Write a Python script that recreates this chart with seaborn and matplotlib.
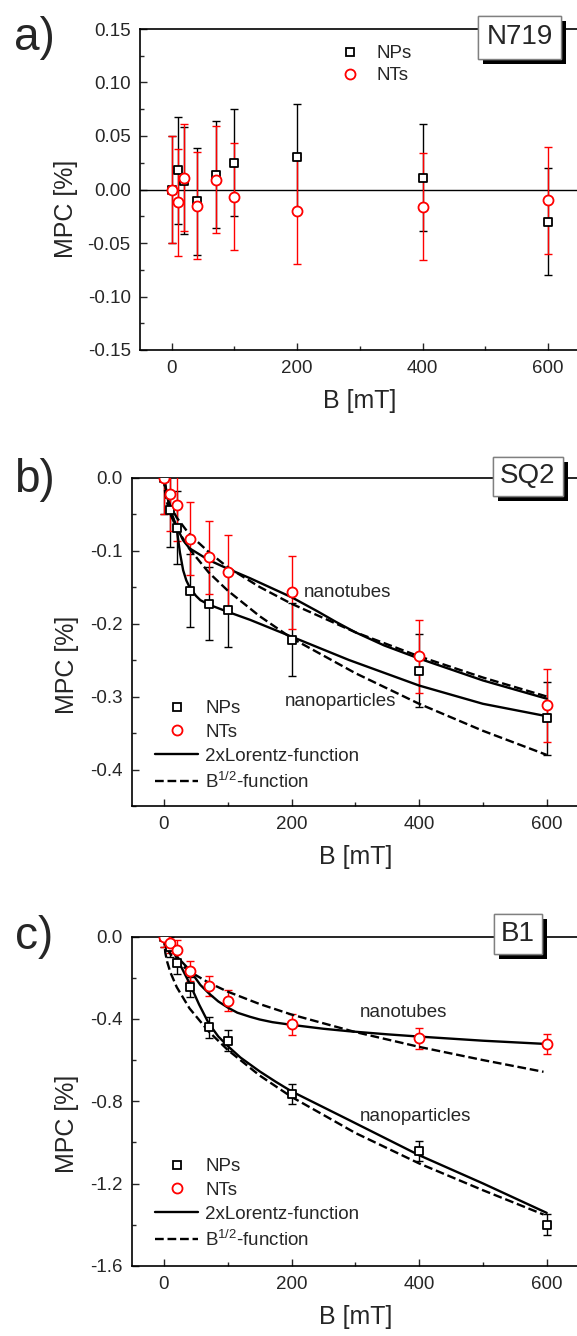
import matplotlib
matplotlib.use("Agg")
import matplotlib.pyplot as plt
import matplotlib.patheffects as pe
from matplotlib.lines import Line2D
from matplotlib.ticker import MultipleLocator, FormatStrFormatter
import seaborn as sns

# ---- data ----
B_pts = [0, 10, 20, 40, 70, 100, 200, 400, 600]

# a) N719
np_a = [0.0, 0.018, 0.008, -0.011, 0.014, 0.025, 0.030, 0.011, -0.030]
nt_a = [0.0, -0.012, 0.011, -0.015, 0.009, -0.007, -0.020, -0.016, -0.010]
err_a = 0.05

# b) SQ2
np_b = [0.0, -0.045, -0.069, -0.155, -0.173, -0.182, -0.222, -0.265, -0.330]
nt_b = [0.0, -0.023, -0.037, -0.084, -0.109, -0.129, -0.157, -0.245, -0.312]
err_b = 0.05
lor_np_b_x = [0, 5, 10, 20, 25, 30, 35, 40, 50, 57, 70, 100, 135, 200, 290, 400, 500, 600]
lor_np_b = [0, -0.025, -0.045, -0.070, -0.103, -0.127, -0.141, -0.150, -0.162, -0.168,
            -0.174, -0.184, -0.195, -0.218, -0.250, -0.285, -0.310, -0.327]
lor_nt_b_x = [0, 5, 10, 20, 30, 40, 70, 100, 135, 200, 240, 270, 300, 345, 400, 500, 600]
lor_nt_b = [0, -0.025, -0.045, -0.068, -0.086, -0.097, -0.113, -0.125, -0.138,
            -0.164, -0.183, -0.198, -0.212, -0.230, -0.248, -0.278, -0.303]
sq_x = [0, 2, 5, 10, 20, 40, 70, 100, 150, 200, 300, 400, 500, 600]
sq_np_b = [0, -0.022, -0.035, -0.050, -0.070, -0.098, -0.130, -0.155, -0.190,
           -0.220, -0.268, -0.310, -0.347, -0.380]
sq_nt_b = [0, -0.017, -0.027, -0.039, -0.055, -0.078, -0.102, -0.123, -0.150,
           -0.173, -0.212, -0.245, -0.274, -0.300]

# c) B1
np_c = [0.0, -0.050, -0.130, -0.246, -0.441, -0.506, -0.765, -1.041, -1.399]
nt_c = [0.0, -0.030, -0.065, -0.167, -0.240, -0.311, -0.426, -0.494, -0.522]
err_c = 0.05
lor_np_c_x = [0, 10, 20, 40, 55, 70, 85, 100, 120, 150, 175, 200, 290, 400, 500, 600]
lor_np_c = [0, -0.045, -0.105, -0.227, -0.330, -0.421, -0.485, -0.532, -0.588,
            -0.655, -0.705, -0.752, -0.891, -1.062, -1.199, -1.342]
lor_nt_c_x = [0, 10, 20, 40, 57, 70, 85, 100, 115, 135, 150, 170, 200, 250, 290, 350,
              400, 500, 600]
lor_nt_c = [0, -0.040, -0.097, -0.162, -0.235, -0.275, -0.315, -0.345, -0.370, -0.390,
            -0.403, -0.416, -0.429, -0.448, -0.460, -0.475, -0.486, -0.506, -0.522]
sq_c_x = [0, 2, 5, 10, 20, 40, 70, 100, 150, 200, 300, 400, 500, 595]
sq_np_c = [0, -0.078, -0.123, -0.174, -0.246, -0.349, -0.461, -0.551, -0.675,
           -0.779, -0.954, -1.102, -1.232, -1.350]
sq_nt_c = [0, -0.038, -0.060, -0.085, -0.120, -0.170, -0.224, -0.268, -0.328,
           -0.379, -0.464, -0.536, -0.600, -0.657]

sns.set_style("ticks")
plt.rcParams["font.family"] = ["Liberation Sans", "DejaVu Sans"]
plt.rcParams["mathtext.fontset"] = "custom"
plt.rcParams["mathtext.rm"] = "Liberation Sans"
plt.rcParams["mathtext.it"] = "Liberation Sans:italic"
plt.rcParams["axes.unicode_minus"] = False

W, H = 577, 1336
fig = plt.figure(figsize=(W / 100, H / 100), dpi=100)


def px_axes(left, top, right, bottom):
    return fig.add_axes([left / W, 1 - bottom / H, (right - left) / W, (bottom - top) / H])


def style_axes(ax, ylim, ymaj, ymin, yfmt, ylab_x, ylab_y):
    ax.set_xlim(-50, 650)
    ax.set_ylim(*ylim)
    ax.xaxis.set_major_locator(MultipleLocator(200))
    ax.xaxis.set_minor_locator(MultipleLocator(100))
    ax.yaxis.set_major_locator(MultipleLocator(ymaj))
    ax.yaxis.set_minor_locator(MultipleLocator(ymin))
    ax.yaxis.set_major_formatter(FormatStrFormatter(yfmt))
    ax.tick_params(which="both", direction="in", width=1.0, labelsize=13.5, pad=7,
                   top=False, right=False)
    ax.tick_params(which="major", length=5)
    ax.tick_params(which="minor", length=3)
    for s in ["left", "bottom", "top"]:
        ax.spines[s].set_linewidth(1.2)
        ax.spines[s].set_color("black")
    ax.spines["right"].set_visible(False)
    ax.set_xlabel("B [mT]", fontsize=18, labelpad=9)
    ax.set_ylabel("MPC [%]", fontsize=18)
    ax.yaxis.set_label_coords(ylab_x, ylab_y)


def draw_points(ax, y_np, y_nt, err):
    ax.errorbar(B_pts, y_np, yerr=err, fmt="none", ecolor="black", elinewidth=1.0,
                capsize=3, capthick=1.0, zorder=3)
    ax.errorbar(B_pts, y_nt, yerr=err, fmt="none", ecolor="red", elinewidth=1.0,
                capsize=3, capthick=1.0, zorder=3)
    sns.scatterplot(x=B_pts, y=y_np, marker="s", s=32, facecolor="white",
                    edgecolor="black", linewidth=1.3, ax=ax, zorder=5)
    sns.scatterplot(x=B_pts, y=y_nt, marker="o", s=52, facecolor="white",
                    edgecolor="red", linewidth=1.3, ax=ax, zorder=6)


def draw_curves(ax, curves):
    for xs, ys, ls in curves:
        sns.lineplot(x=xs, y=ys, color="black", linewidth=1.7, linestyle=ls,
                     sort=False, estimator=None, ax=ax, zorder=4)


def box_label(text, x, y, pad):
    t = fig.text(x / W, 1 - y / H, text, fontsize=20, ha="center", va="center",
                 bbox=dict(boxstyle="square,pad=%.2f" % pad, fc="white", ec="#808080", lw=1.0),
                 zorder=10)
    t.get_bbox_patch().set_path_effects(
        [pe.withSimplePatchShadow(offset=(3.6, -3.6), shadow_rgbFace="black", alpha=1.0),
         pe.Normal()])


mk_np = Line2D([], [], marker="s", ls="none", mfc="white", mec="black", ms=5.6, mew=1.3)
mk_nt = Line2D([], [], marker="o", ls="none", mfc="white", mec="red", ms=7.2, mew=1.3)
ln_lor = Line2D([], [], color="black", lw=1.7)
ln_sq = Line2D([], [], color="black", lw=1.7, ls="--")
leg_labels = ["NPs", "NTs", "2xLorentz-function", r"B$^{1/2}$-function"]

# ---- a) ----
ax_a = px_axes(140.4, 29, 579.3, 350)
ax_a.axhline(0, color="black", lw=1.0, zorder=2)
draw_points(ax_a, np_a, nt_a, err_a)
style_axes(ax_a, (-0.15, 0.15), 0.05, 0.025, "%.2f", -0.142, 0.44)
ax_a.legend(handles=[mk_np, mk_nt], labels=["NPs", "NTs"], loc="upper left",
            bbox_to_anchor=(337 / W, 1 - 45 / H), bbox_transform=fig.transFigure,
            frameon=False, fontsize=13.5, handlelength=1.4, handletextpad=0.7,
            labelspacing=0.28, borderpad=0, borderaxespad=0)

# ---- b) ----
ax_b = px_axes(132.1, 477.5, 578.6, 806)
draw_curves(ax_b, [(lor_np_b_x, lor_np_b, "-"), (lor_nt_b_x, lor_nt_b, "-"),
                   (sq_x, sq_np_b, "--"), (sq_x, sq_nt_b, "--")])
draw_points(ax_b, np_b, nt_b, err_b)
style_axes(ax_b, (-0.45, 0.0), 0.1, 0.05, "%.1f", -0.119, 0.43)
ax_b.text(288, -0.157, "nanotubes", fontsize=13.5, ha="center", va="center")
ax_b.text(277, -0.3075, "nanoparticles", fontsize=13.5, ha="center", va="center")
ax_b.legend(handles=[mk_np, mk_nt, ln_lor, ln_sq], labels=leg_labels,
            loc="upper left", bbox_to_anchor=(155 / W, 1 - 700 / H),
            bbox_transform=fig.transFigure, frameon=False, fontsize=13.5,
            handlelength=2.3, handletextpad=0.37, labelspacing=0.36,
            borderpad=0, borderaxespad=0)

# ---- c) ----
ax_c = px_axes(132.1, 936.5, 578.6, 1266)
draw_curves(ax_c, [(lor_np_c_x, lor_np_c, "-"), (lor_nt_c_x, lor_nt_c, "-"),
                   (sq_c_x, sq_np_c, "--"), (sq_c_x, sq_nt_c, "--")])
draw_points(ax_c, np_c, nt_c, err_c)
style_axes(ax_c, (-1.6, 0.0), 0.4, 0.2, "%.1f", -0.119, 0.43)
ax_c.text(376, -0.371, "nanotubes", fontsize=13.5, ha="center", va="center")
ax_c.text(395, -0.872, "nanoparticles", fontsize=13.5, ha="center", va="center")
ax_c.legend(handles=[mk_np, mk_nt, ln_lor, ln_sq], labels=leg_labels,
            loc="upper left", bbox_to_anchor=(155 / W, 1 - 1158 / H),
            bbox_transform=fig.transFigure, frameon=False, fontsize=13.5,
            handlelength=2.3, handletextpad=0.37, labelspacing=0.36,
            borderpad=0, borderaxespad=0)

# panel letters and sample boxes
for lab, y in [("a)", 38), ("b)", 480), ("c)", 937)]:
    fig.text(34 / W, 1 - y / H, lab, fontsize=33, ha="center", va="center")
box_label("N719", 519.5, 37.5, 0.3)
box_label("SQ2", 528, 476.5, 0.25)
box_label("B1", 518, 934, 0.25)

fig.savefig("out.png", dpi=100)
